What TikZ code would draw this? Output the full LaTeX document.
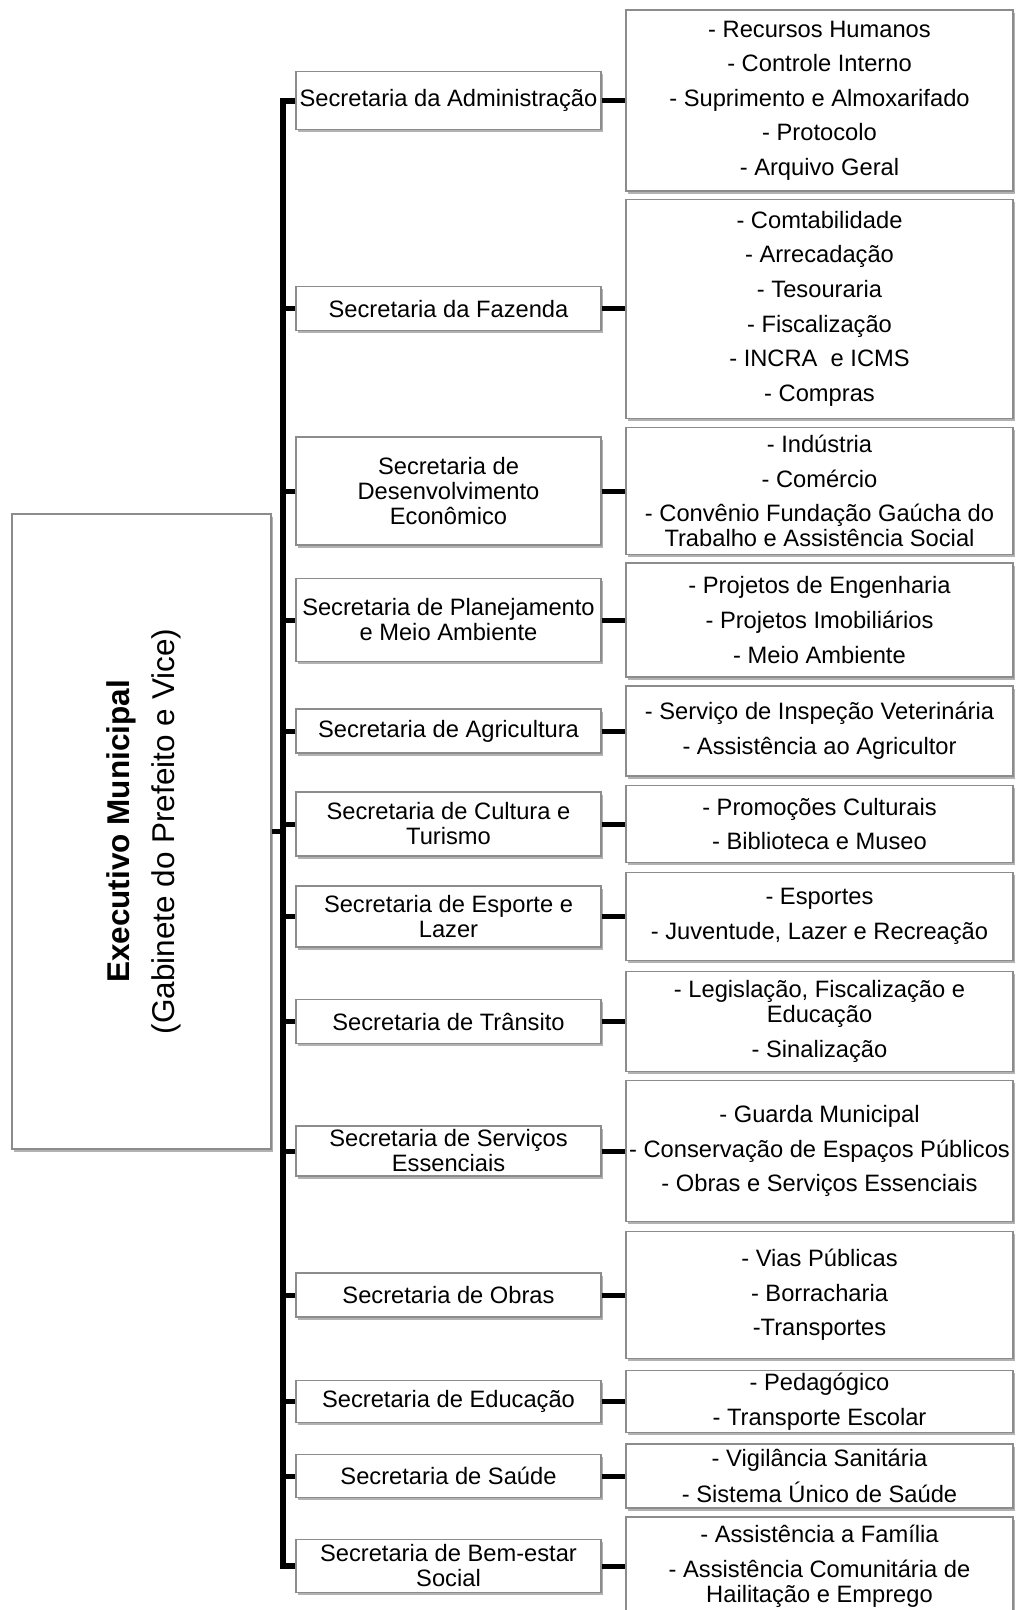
\documentclass[tikz,border=0pt]{standalone}
\usepackage{fontspec}
\setmainfont{Liberation Sans}
\usetikzlibrary{shadows}
\definecolor{boxline}{HTML}{8C8C8C}

\begin{document}
\begin{tikzpicture}[x=1pt,y=-1pt,
        orgbox/.style={draw=boxline,line width=1.2pt,fill=white,align=center,inner sep=0pt,
            drop shadow={shadow xshift=1.5pt,shadow yshift=-2.5pt,opacity=0.3,fill=black},
            font=\fontsize{23.7pt}{25pt}\selectfont},
        secbox/.style={orgbox,minimum width=305pt},
        subbox/.style={orgbox,minimum width=387pt},
        tick/.style={line width=5pt},
        trunk/.style={line width=6pt}]
        \useasboundingbox (0,0) rectangle (1016,1610);

        % Executivo
        \node[orgbox,minimum width=259pt,minimum height=635pt] (exec) at (141.5, 831.5) {};
        \node[rotate=90,align=center,font=\fontsize{31.5pt}{45pt}\selectfont] (execlabel) at (144, 831.5)
            {\textbf{Executivo Municipal}\\(Gabinete do Prefeito e Vice)};

        % Secretarias
        \begin{scope}[every node/.style={secbox}]
            \node[minimum height=58pt] (sAdm) at (448.5, 100.5) {Secretaria da Administração};
            \node[minimum height=44pt] (sFaz) at (448.5, 308.75) {Secretaria da Fazenda};
            \node[minimum height=108pt] (sDes) at (448.5, 491) {Secretaria de\\Desenvolvimento\\Econômico};
            \node[minimum height=83pt] (sPla) at (448.5, 620) {Secretaria de Planejamento\\e Meio Ambiente};
            \node[minimum height=44pt] (sAgr) at (448.5, 731) {Secretaria de Agricultura};
            \node[minimum height=64pt] (sCul) at (448.5, 824) {Secretaria de Cultura e\\Turismo};
            \node[minimum height=61pt] (sEsp) at (448.5, 916.5) {Secretaria de Esporte e\\Lazer};
            \node[minimum height=44pt] (sTra) at (448.5, 1021.5) {Secretaria de Trânsito};
            \node[minimum height=50pt] (sSer) at (448.5, 1151) {Secretaria de Serviços\\Essenciais};
            \node[minimum height=44pt] (sObr) at (448.5, 1295) {Secretaria de Obras};
            \node[minimum height=42pt] (sEdu) at (448.5, 1401.5) {Secretaria de Educação};
            \node[minimum height=43pt] (sSau) at (448.5, 1476) {Secretaria de Saúde};
            \node[minimum height=53pt] (sBem) at (448.5, 1566) {Secretaria de Bem-estar\\Social};
        \end{scope}

        % Setores
        \begin{scope}[every node/.style={subbox}]
            \node[minimum height=181pt] (uAdm) at (819.5, 100.5) {- Recursos Humanos\\[9.6pt]- Controle Interno\\[9.6pt]- Suprimento e Almoxarifado\\[9.6pt]- Protocolo\\[9.6pt]- Arquivo Geral};
            \node[minimum height=219pt] (uFaz) at (819.5, 308.75) {- Comtabilidade\\[9.6pt]- Arrecadação\\[9.6pt]- Tesouraria\\[9.6pt]- Fiscalização\\[9.6pt]- INCRA~ e ICMS\\[9.6pt]- Compras};
            \node[minimum height=127pt] (uDes) at (819.5, 491) {- Indústria\\[9.6pt]- Comércio\\[9.6pt]- Convênio Fundação Gaúcha do\\Trabalho e Assistência Social};
            \node[minimum height=114pt] (uPla) at (819.5, 620) {- Projetos de Engenharia\\[9.6pt]- Projetos Imobiliários\\[9.6pt]- Meio Ambiente};
            \node[minimum height=90pt] (uAgr) at (819.5, 731) {- Serviço de Inspeção Veterinária\\[9.6pt]- Assistência ao Agricultor};
            \node[minimum height=77pt] (uCul) at (819.5, 824) {- Promoções Culturais\\[9.6pt]- Biblioteca e Museo};
            \node[minimum height=88pt] (uEsp) at (819.5, 916.5) {- Esportes\\[9.6pt]- Juventude, Lazer e Recreação};
            \node[minimum height=100pt] (uTra) at (819.5, 1021.5) {- Legislação, Fiscalização e\\Educação\\[9.6pt]- Sinalização};
            \node[minimum height=141pt] (uSer) at (819.5, 1151) {- Guarda Municipal\\[9.6pt]- Conservação de Espaços Públicos\\[9.6pt]- Obras e Serviços Essenciais};
            \node[minimum height=127pt] (uObr) at (819.5, 1295) {- Vias Públicas\\[9.6pt]- Borracharia\\[9.6pt]-Transportes};
            \node[minimum height=62pt] (uEdu) at (819.5, 1401.5) {- Pedagógico\\[9.6pt]- Transporte Escolar};
            \node[minimum height=64pt] (uSau) at (819.5, 1476) {- Vigilância Sanitária\\[9.6pt]- Sistema Único de Saúde};
            \node[minimum height=98pt] (uBem) at (819.5, 1566) {- Assistência a Família\\[9.6pt]- Assistência Comunitária de\\Hailitação e Emprego};
        \end{scope}

        % Tronco
        \coordinate (tbot) at (283, 1566);
        \draw[trunk] (sAdm.west) -| (tbot) -- (sBem.west);
        \draw[tick] (exec.east) -- (exec.east -| tbot);
        \foreach \s in {sFaz,sDes,sPla,sAgr,sCul,sEsp,sTra,sSer,sObr,sEdu,sSau}
            \draw[tick] (\s.west) -- (\s.west -| tbot);

        \path[tick] (sAdm) edge (uAdm);
        \path[tick] (sFaz) edge (uFaz);
        \path[tick] (sDes) edge (uDes);
        \path[tick] (sPla) edge (uPla);
        \path[tick] (sAgr) edge (uAgr);
        \path[tick] (sCul) edge (uCul);
        \path[tick] (sEsp) edge (uEsp);
        \path[tick] (sTra) edge (uTra);
        \path[tick] (sSer) edge (uSer);
        \path[tick] (sObr) edge (uObr);
        \path[tick] (sEdu) edge (uEdu);
        \path[tick] (sSau) edge (uSau);
        \path[tick] (sBem) edge (uBem);
\end{tikzpicture}
\end{document}
